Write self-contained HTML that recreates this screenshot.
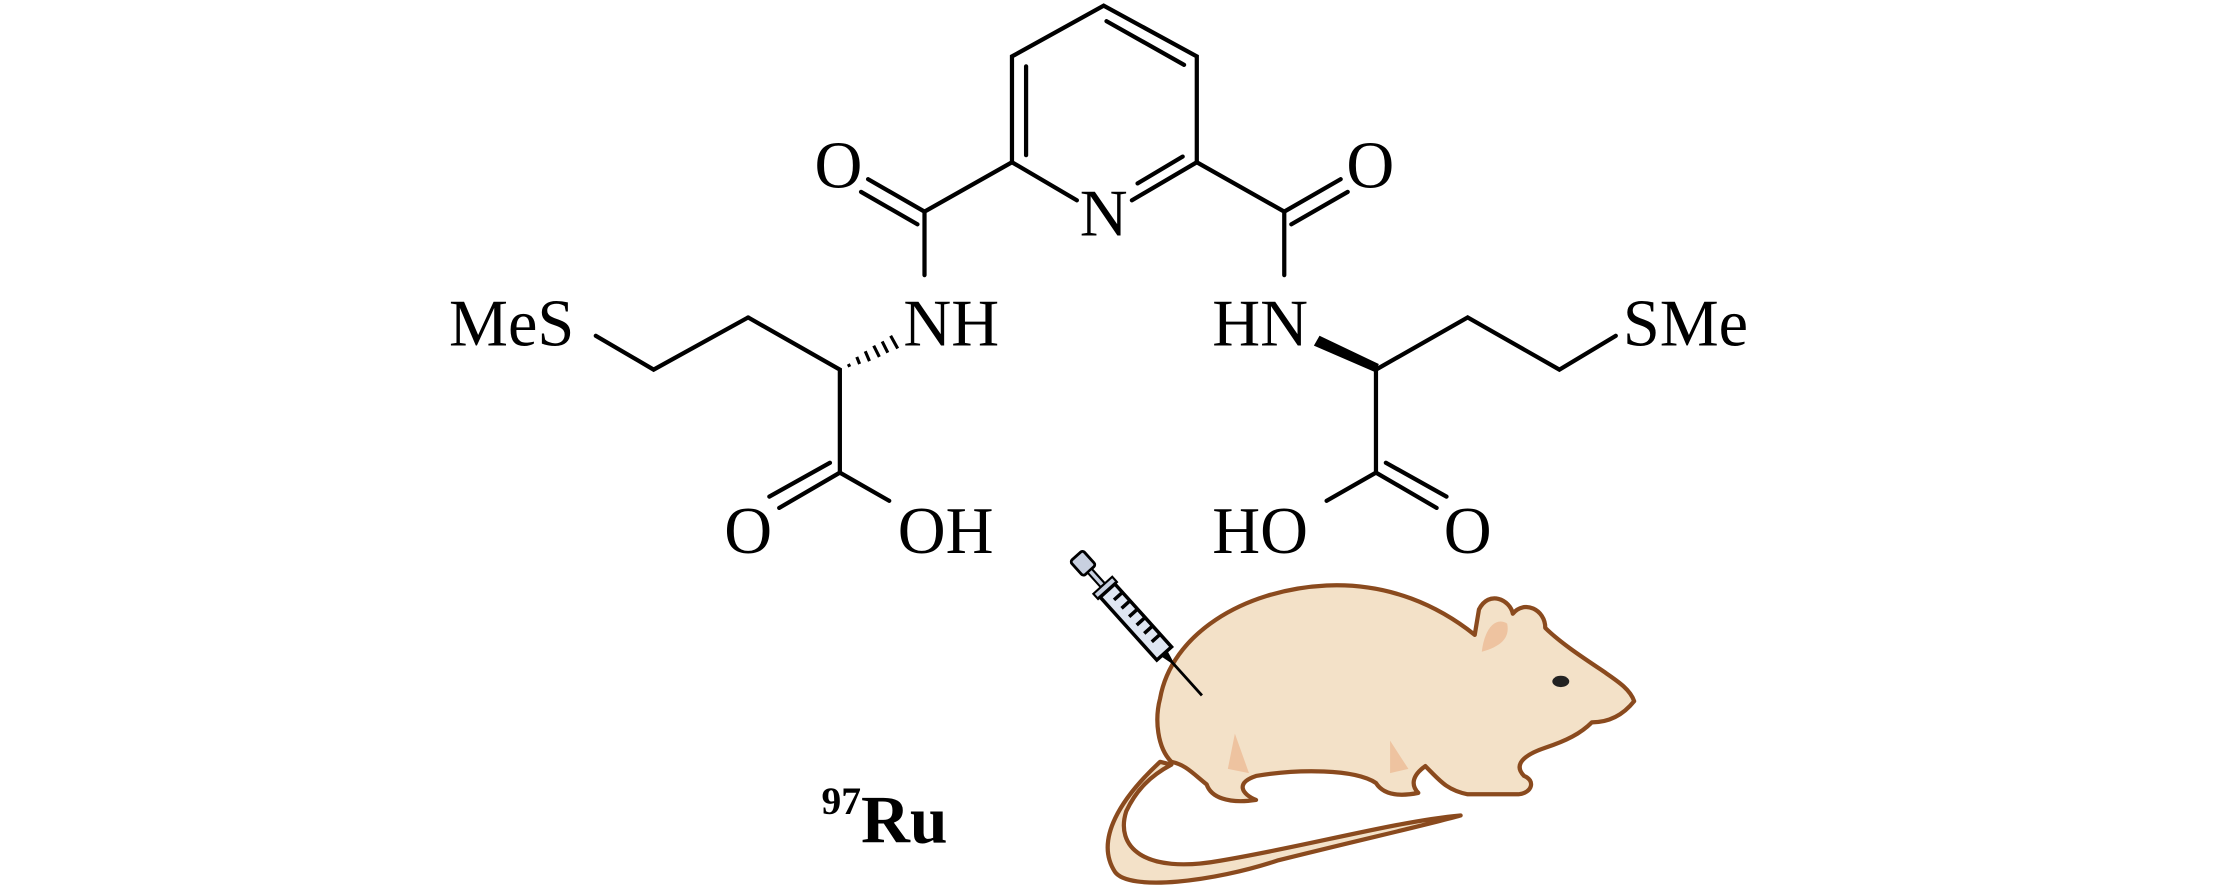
<!DOCTYPE html>
<html><head><meta charset="utf-8"><style>html,body{margin:0;padding:0;background:#fff}svg{display:block}</style></head>
<body>
<svg width="2213" height="886" viewBox="0 0 1568 628" xmlns="http://www.w3.org/2000/svg">
<g stroke="#000" stroke-width="3" fill="none" stroke-linecap="round">
<path d="M717,115 L717,40 L782,4 L848,40 L848,115"/>
<path d="M727,110 L727,47"/>
<path d="M784,15 L839,46"/>
<path d="M717,115 L763,142"/>
<path d="M848,115 L802,142"/>
<path d="M838,111 L806,130"/>
<path d="M717,115 L655,150 L655,195"/>
<path d="M655,150 L615,127"/>
<path d="M650,159 L610,136"/>
<path d="M530,225 L595,262 L595,335"/>
<path d="M530,225 L463,262 L422,238"/>
<path d="M595,335 L630,355"/>
<path d="M595,335 L552,360"/>
<path d="M588,328 L545,352"/>
<path d="M848,115 L910,150 L910,195"/>
<path d="M910,150 L950,127"/>
<path d="M915,159 L955,136"/>
<path d="M975,262 L1040,225 L1105,262 L1145,238"/>
<path d="M975,262 L975,335"/>
<path d="M975,335 L940,355"/>
<path d="M975,335 L1018,360"/>
<path d="M982,328 L1025,352"/>
</g>
<g stroke="#000" stroke-width="2.2">
<path d="M601,258 L602,260 M607,253 L609,258 M613,249 L616,256 M619,245 L623,253 M625,242 L629,250 M631,238 L636,247"/>
</g>
<polygon points="935,238 931,245 975,264 977,258" fill="#000"/>
<g font-family="Liberation Serif, serif" font-size="47" fill="#000">
<text x="782" y="167" text-anchor="middle">N</text>
<text x="594" y="133" text-anchor="middle">O</text>
<text x="971" y="133" text-anchor="middle">O</text>
<text x="640" y="245">NH</text>
<text x="859" y="245">HN</text>
<text x="318" y="245">MeS</text>
<text x="1150" y="245">SMe</text>
<text x="530" y="392" text-anchor="middle">O</text>
<text x="636" y="392">OH</text>
<text x="859" y="392">HO</text>
<text x="1040" y="392" text-anchor="middle">O</text>
</g>
<text x="582" y="597" font-family="Liberation Serif, serif" font-weight="bold" font-size="48" fill="#000"><tspan font-size="28" dy="-20">97</tspan><tspan dy="20">Ru</tspan></text>
<g stroke="#8a4a1e" stroke-width="3" stroke-linejoin="round">
<path d="M822,540 C795,565 775,595 790,618 C800,632 860,625 905,610 C965,595 1010,585 1035,578 C990,582 925,600 865,610 C810,620 790,600 798,575 C805,560 815,550 830,542 Z" fill="#f3e1c8"/>
<path d="M822,495 C830,450 880,418 940,415 C985,413 1020,430 1045,450 L1048,432 C1055,418 1070,425 1072,435 C1080,425 1095,432 1095,445 C1105,455 1120,465 1135,475 C1145,482 1155,488 1158,497 C1150,507 1140,512 1128,512 C1120,520 1110,525 1095,530 C1080,535 1072,542 1080,550 C1088,553 1086,562 1076,563 L1040,563 C1025,560 1020,553 1010,543 C1000,550 1000,557 1005,562 C990,565 980,563 975,555 C960,545 920,545 890,550 C875,555 880,563 890,567 C870,570 858,565 855,556 C845,548 840,542 830,540 C820,530 818,510 822,495 Z" fill="#f3e1c8"/>
</g>
<path d="M1050,462 C1052,445 1060,437 1068,442 C1070,452 1064,458 1050,462Z" fill="#eec3a0"/>
<ellipse cx="1106" cy="483" rx="6" ry="4" fill="#222"/>
<path d="M875,520 L885,548 L870,545 Z M985,525 L998,545 L985,548 Z" fill="#eec3a0"/>
<g transform="translate(768,400) rotate(48)">
<line x1="0" y1="0" x2="125" y2="0" stroke="#000" stroke-width="2"/>
<rect x="-8" y="-6" width="14" height="12" rx="2" fill="#c8d0e0" stroke="#000" stroke-width="2"/>
<rect x="6" y="-2" width="14" height="4" fill="#c8d0e0" stroke="#000" stroke-width="1.5"/>
<rect x="20" y="-9" width="5" height="18" fill="#c8d0e0" stroke="#000" stroke-width="1.5"/>
<rect x="25" y="-7" width="60" height="14" fill="#dfe6f2" stroke="#000" stroke-width="2.5"/>
<path d="M33,-6v7M41,-6v7M49,-6v7M57,-6v7M65,-6v7M73,-6v7" stroke="#000" stroke-width="2.5"/>
<path d="M85,-3 L93,-1 L93,1 L85,3Z" fill="#000"/>
</g>
</svg>
</body></html>
